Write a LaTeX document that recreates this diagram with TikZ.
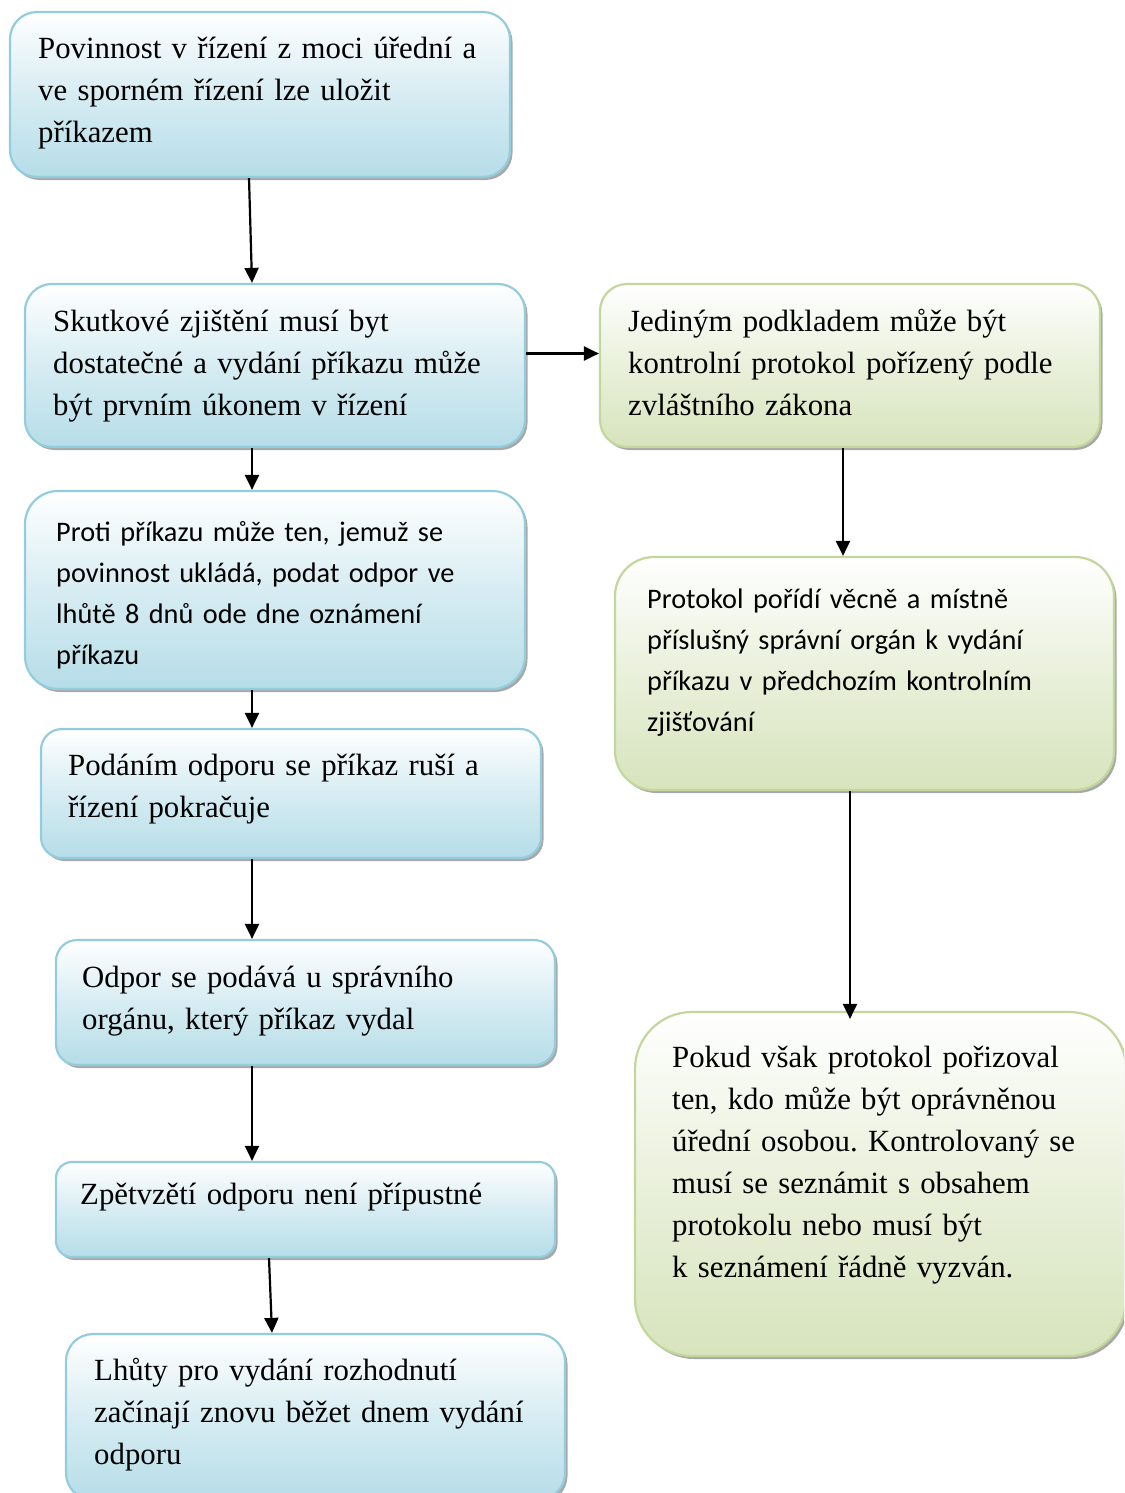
\documentclass[tikz,border=0pt]{standalone}
\usepackage{fontspec}
\setmainfont{Liberation Serif}
\newfontfamily\calfont{Carlito}
\usetikzlibrary{arrows.meta,shadows}
\definecolor{blueline}{HTML}{93CDDD}
\definecolor{bluefill}{HTML}{B6DDE8}
\definecolor{greenline}{HTML}{C3D69B}
\definecolor{greenfill}{HTML}{D7E4BD}
\tikzset{
  boxbase/.style={rectangle, line width=2.2pt, inner sep=0pt,
    drop shadow={shadow xshift=2.5pt, shadow yshift=-3pt, fill=gray!75, opacity=0.9}},
  bluebox/.style={boxbase, draw=blueline, top color=white, bottom color=bluefill, middle color=bluefill!55!white},
  greenbox/.style={boxbase, draw=greenline, top color=white, bottom color=greenfill, middle color=greenfill!55!white},
  sertxt/.style={anchor=base west, inner sep=0pt, align=left, text width=480pt,
    font=\frenchspacing\fontsize{30.8}{42}\selectfont},
  caltxt/.style={anchor=base west, inner sep=0pt, align=left, text width=480pt,
    font=\frenchspacing\calfont\fontsize{28.3}{41}\selectfont},
  arr/.style={line width=2.2pt, -{Triangle[length=15pt,width=14pt]}}
}
\begin{document}
\begin{tikzpicture}[x=1pt,y=-1pt]
\useasboundingbox (0,0) rectangle (1124,1493);
\clip (0,0) rectangle (1124,1493);
% boxes
\node[bluebox, minimum width=500pt, minimum height=165pt, rounded corners=27pt] (b1) at (260,94.5) {};
\node[bluebox, minimum width=500pt, minimum height=163pt, rounded corners=27pt] (b2) at (275,365.5) {};
\node[greenbox, minimum width=500pt, minimum height=163pt, rounded corners=27pt] (b3) at (850,365.5) {};
\node[bluebox, minimum width=500pt, minimum height=198pt, rounded corners=33pt] (b4) at (275,590) {};
\node[greenbox, minimum width=499pt, minimum height=233pt, rounded corners=39pt] (b5) at (864.5,673.5) {};
\node[bluebox, minimum width=500pt, minimum height=129pt, rounded corners=21pt] (b6) at (291,793.5) {};
\node[bluebox, minimum width=499pt, minimum height=125pt, rounded corners=21pt] (b7) at (305.5,1002.5) {};
\node[greenbox, minimum width=491pt, minimum height=344pt, rounded corners=57pt] (b8) at (880.5,1184) {};
\node[bluebox, minimum width=499pt, minimum height=95pt, rounded corners=16pt] (b9) at (305.5,1209.5) {};
\node[bluebox, minimum width=499pt, minimum height=166pt, rounded corners=27pt] (b10) at (315.5,1417) {};
% texts
\node[sertxt] (t1) at (38,59) {Povinnost v řízení z moci úřední a\\ve sporném řízení lze uložit\\příkazem};
\node[sertxt] (t2) at (53,331) {Skutkové zjištění musí byt\\dostatečné a vydání příkazu může\\být prvním úkonem v řízení};
\node[sertxt] (t3) at (628,331) {Jediným podkladem může být\\kontrolní protokol pořízený podle\\zvláštního zákona};
\node[caltxt] (t4) at (56,541) {Proti příkazu může ten, jemuž se\\povinnost ukládá, podat odpor ve\\lhůtě 8 dnů ode dne oznámení\\příkazu};
\node[caltxt] (t5) at (647,608) {Protokol pořídí věcně a místně\\příslušný správní orgán k vydání\\příkazu v předchozím kontrolním\\zjišťování};
\node[sertxt] (t6) at (68,775) {Podáním odporu se příkaz ruší a\\řízení pokračuje};
\node[sertxt] (t7) at (82,987) {Odpor se podává u správního\\orgánu, který příkaz vydal};
\node[sertxt] (t8) at (672,1067) {Pokud však protokol pořizoval\\ten, kdo může být oprávněnou\\úřední osobou. Kontrolovaný se\\musí se seznámit s obsahem\\protokolu nebo musí být\\k~seznámení řádně vyzván.};
\node[sertxt] (t9) at (80,1204) {Zpětvzětí odporu není přípustné};
\node[sertxt] (t10) at (94,1380) {Lhůty pro vydání rozhodnutí\\začínají znovu běžet dnem vydání\\odporu};
% connectors
\draw[arr] ([xshift=-11pt]b1.south) -- ([xshift=-23pt]b2.north);
\draw[arr] ([xshift=-23pt]b2.south) -- ([xshift=-23pt]b4.north);
\draw[arr] ([yshift=12pt]b2.east) -- ([yshift=12pt]b3.west);
\draw[arr] ([xshift=-23pt]b4.south) -- ([xshift=-39pt]b6.north);
\draw[arr] ([xshift=-39pt]b6.south) -- ([xshift=-53.5pt]b7.north);
\draw[arr] ([xshift=-53.5pt]b7.south) -- ([xshift=-53.5pt]b9.north);
\draw[arr] ([xshift=-36.5pt]b9.south) -- ([xshift=-43.5pt]b10.north);
\draw[arr] ([xshift=-7pt]b3.south) -- ([xshift=-21.5pt]b5.north);
\draw[arr] ([xshift=-14.5pt]b5.south) -- ([xshift=-30.5pt,yshift=-8pt]b8.north);
\end{tikzpicture}
\end{document}
